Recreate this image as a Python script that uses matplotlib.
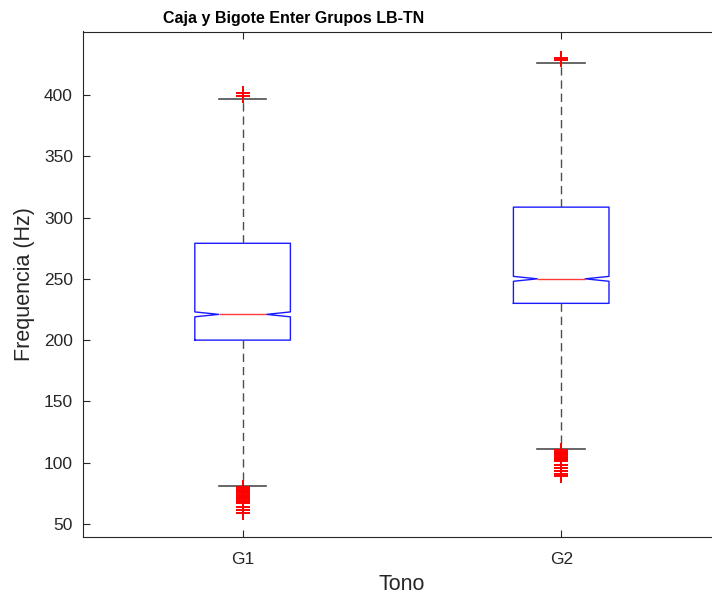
import matplotlib
matplotlib.use("Agg")
import matplotlib.pyplot as plt

plt.rcParams['font.family'] = ['Liberation Sans', 'DejaVu Sans']

groups = ["G1", "G2"]
q1 = [200, 230]
med = [221, 250]
q3 = [279, 308.5]
ci_half = [2.0, 2.0]
whislo = [81, 111]
whishi = [396.5, 426]
fliers = [
    [399.2, 401.6, 80, 79, 78, 77, 76, 75, 74, 73, 72, 71, 70, 69, 68, 67, 64, 61.5, 59],
    [428.5, 430, 110, 109, 108, 107, 106, 105, 104, 103, 102, 101, 98, 96, 93.5, 91, 89],
]
yticks = [50, 100, 150, 200, 250, 300, 350, 400]

fig = plt.figure(figsize=(7.12, 6.01), dpi=100)
ax = fig.add_axes([83.3/712, 1-536.7/601, (720.5-83.3)/712, (536.7-31.5)/601])

stats = []
for i, g in enumerate(groups):
    stats.append(dict(label=g, med=med[i], q1=q1[i], q3=q3[i],
                      cilo=med[i]-ci_half[i], cihi=med[i]+ci_half[i],
                      whislo=whislo[i], whishi=whishi[i], fliers=fliers[i]))

ax.bxp(stats, positions=[1, 2], widths=0.30, shownotches=True,
       boxprops=dict(color='#1a1aff', linewidth=1.0),
       medianprops=dict(color='#ff3a3a', linewidth=1.0),
       whiskerprops=dict(color='#4d4d4d', linewidth=1.0, linestyle=(0, (6, 3.5))),
       capprops=dict(color='#4d4d4d', linewidth=1.2),
       flierprops=dict(marker='+', markeredgecolor='#ff0000', markersize=9.5,
                       markeredgewidth=1.4, linestyle='none'),
       capwidths=0.15)

ax.set_xlim(0.5, 2.5)
ax.set_ylim(39.6, 451.8)
ax.set_yticks(yticks)
ax.set_xticks([1, 2])
ax.set_xticklabels(groups)
ax.tick_params(direction='in', length=5, width=0.8, colors='#262626',
               labelsize=12.5, top=True, right=True)
ax.tick_params(axis='y', pad=7.5)
ax.tick_params(axis='x', pad=11)
for s in ax.spines.values():
    s.set_color('#262626')
    s.set_linewidth(0.8)
ax.set_ylabel('Frequencia (Hz)', fontsize=15.5, color='#262626', labelpad=6)
ax.set_xlabel('Tono', fontsize=15.5, color='#262626', labelpad=5)
fig.text(294/712, 1-18/601, 'Caja y Bigote Enter Grupos LB-TN',
         ha='center', va='center', fontsize=11.5, fontweight='bold', color='black')

fig.savefig('out.png', dpi=100)
